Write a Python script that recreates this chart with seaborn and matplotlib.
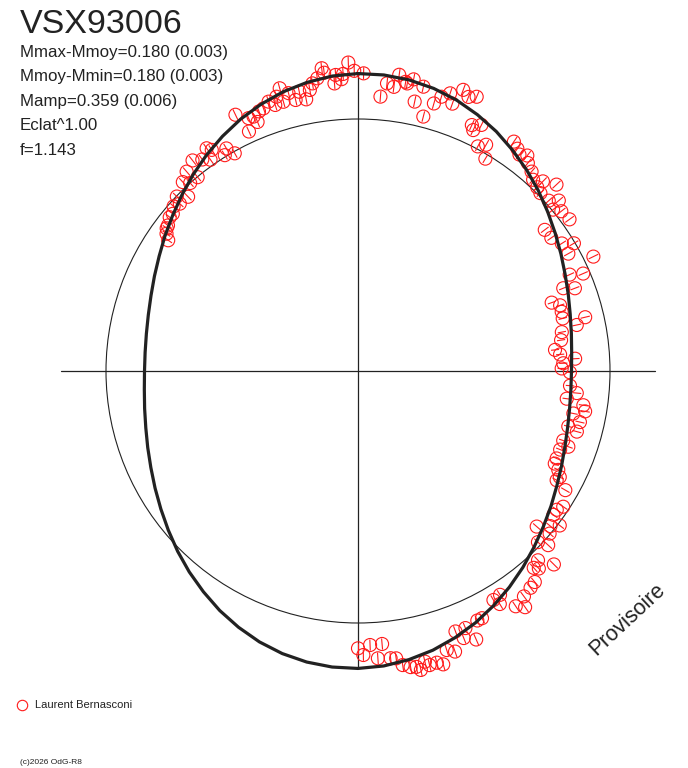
import numpy as np
import pandas as pd
import seaborn as sns
import matplotlib.pyplot as plt
from matplotlib.collections import LineCollection

sns.set_style("white")
plt.rcParams['font.family'] = ['Liberation Sans', 'DejaVu Sans']

# texts
star = "VSX93006"
info = ["Mmax-Mmoy=0.180 (0.003)", "Mmoy-Mmin=0.180 (0.003)",
        "Mamp=0.359 (0.006)", "Eclat^1.00", "f=1.143"]
observer = "Laurent Bernasconi"

# observations: phase (0..1, clockwise from top) and magnitude minus mean magnitude
phase = [0.957, 0.954, 0.957, 0.952, 0.949, 0.945, 0.942, 0.938, 0.935, 0.939,
         0.929, 0.932, 0.915, 0.918, 0.912, 0.907, 0.905, 0.903, 0.899, 0.894,
         0.887, 0.890, 0.881, 0.884, 0.877, 0.872, 0.870, 0.866, 0.862, 0.859,
         0.854, 0.852, 0.849, 0.846, 0.995, 0.998, 0.003, 0.992, 0.981, 0.982,
         0.978, 0.975, 0.988, 0.991, 0.987, 0.973, 0.967, 0.970, 0.964, 0.961,
         0.016, 0.020, 0.022, 0.026, 0.030, 0.027, 0.013, 0.033, 0.040, 0.036,
         0.044, 0.047, 0.051, 0.054, 0.057, 0.061, 0.065, 0.069, 0.074, 0.071,
         0.078, 0.082, 0.086, 0.095, 0.099, 0.102, 0.106, 0.109, 0.114, 0.118,
         0.123, 0.123, 0.130, 0.127, 0.134, 0.138, 0.140, 0.144, 0.151, 0.147,
         0.154, 0.161, 0.165, 0.169, 0.178, 0.182, 0.185, 0.189, 0.192, 0.196,
         0.200, 0.205, 0.210, 0.213, 0.217, 0.220, 0.226, 0.233, 0.237, 0.241,
         0.244, 0.248, 0.251, 0.261, 0.266, 0.271, 0.274, 0.281, 0.278, 0.286,
         0.291, 0.293, 0.302, 0.305, 0.309, 0.316, 0.320, 0.323, 0.327, 0.330,
         0.333, 0.343, 0.347, 0.351, 0.354, 0.364, 0.358, 0.362, 0.371, 0.368,
         0.379, 0.384, 0.382, 0.374, 0.389, 0.393, 0.399, 0.406, 0.402, 0.500,
         0.493, 0.486, 0.497, 0.489, 0.482, 0.479, 0.476, 0.472, 0.469, 0.467,
         0.464, 0.462, 0.458, 0.455, 0.451, 0.447, 0.443, 0.437, 0.440, 0.434,
         0.429, 0.426, 0.415, 0.410, 0.413]
dmag = [-0.165, -0.138, -0.112, -0.109, -0.129, -0.111, -0.106, -0.095, -0.097, -0.069,
        -0.130, -0.047, -0.028, 0.008, -0.007, -0.055, -0.072, -0.024, -0.045, -0.066,
        -0.046, 0.002, -0.024, 0.000, 0.038, 0.002, 0.033, 0.021, 0.040, 0.039,
        0.056, 0.059, 0.073, 0.097, -0.220, -0.190, -0.181, -0.180, -0.207, -0.190,
        -0.173, -0.157, -0.178, -0.161, -0.147, -0.134, -0.135, -0.101, -0.107, -0.139,
        -0.149, -0.139, -0.186, -0.164, -0.178, -0.159, -0.096, -0.096, -0.045, -0.159,
        -0.107, -0.140, -0.162, -0.128, -0.190, -0.173, -0.185, -0.079, -0.096, -0.063,
        -0.011, -0.034, 0.019, -0.104, -0.089, -0.075, -0.091, -0.069, -0.052, -0.031,
        -0.020, -0.054, -0.084, -0.012, -0.016, -0.048, -0.005, -0.028, -0.035, 0.080,
        0.077, 0.051, 0.005, 0.049, -0.041, 0.087, 0.029, 0.141, 0.089, 0.222,
        0.185, 0.187, 0.191, 0.083, 0.130, 0.211, 0.222, 0.261, 0.236, 0.160,
        0.222, 0.231, 0.188, 0.185, 0.148, 0.195, 0.109, 0.150, 0.096, 0.110,
        0.160, 0.113, 0.164, 0.130, 0.163, 0.162, 0.160, 0.131, 0.109, 0.115,
        0.057, 0.026, 0.042, 0.041, -0.009, 0.067, 0.021, 0.003, 0.016, -0.025,
        -0.039, -0.050, -0.066, -0.096, -0.096, -0.103, -0.114, -0.127, -0.150, -0.104,
        -0.092, -0.091, -0.130, -0.145, -0.149, -0.152, -0.180, -0.192, -0.195, -0.209,
        -0.183, -0.199, -0.197, -0.209, -0.163, -0.178, -0.107, -0.109, -0.142, -0.165,
        -0.101, -0.101, -0.059, -0.055, -0.086]
mag_err = 0.022

# fitted light curve, every 5 degrees of phase (double wave, repeats after 180)
curve_deg = list(range(0, 360, 5))
half_wave = [-0.180, -0.179, -0.173, -0.162, -0.146, -0.125, -0.101, -0.073, -0.044,
             -0.013, 0.019, 0.050, 0.079, 0.106, 0.129, 0.149, 0.164, 0.175,
             0.180, 0.179, 0.173, 0.162, 0.146, 0.125, 0.101, 0.073, 0.044,
             0.013, -0.019, -0.050, -0.079, -0.106, -0.129, -0.149, -0.164, -0.175]
curve_dmag = half_wave + half_wave


def to_xy(ang, dm):
    # radius = flux relative to mean (Eclat^1), angle clockwise from top
    r = 10 ** (-0.4 * np.asarray(dm))
    return r * np.sin(ang), r * np.cos(ang)


ang = 2 * np.pi * np.array(phase)
px, py = to_xy(ang, dmag)
obs = pd.DataFrame({'x': px, 'y': py})

cang = np.radians(curve_deg + [360])
cx, cy = to_xy(cang, curve_dmag + [curve_dmag[0]])
curve = pd.DataFrame({'x': cx, 'y': cy})
rmax = np.hypot(cx, cy).max()

fig = plt.figure(figsize=(6.88, 7.68), dpi=100)
ax = fig.add_axes([0, 0, 1, 1])
ax.set_xlim(-358 / 252, 330 / 252)
ax.set_ylim(-397 / 252, 371 / 252)
ax.set_axis_off()

# axes cross and mean-flux circle
ax.plot([-rmax, rmax], [0, 0], color='#222222', lw=0.9, zorder=1)
ax.plot([0, 0], [-rmax, rmax], color='#222222', lw=0.9, zorder=1)
ax.add_patch(plt.Circle((0, 0), 1, fill=False, color='#222222', lw=0.8, zorder=1))

# radial error bars
x0, y0 = to_xy(ang, np.array(dmag) + mag_err)
x1, y1 = to_xy(ang, np.array(dmag) - mag_err)
segs = [[(a, b), (c, d)] for a, b, c, d in zip(x0, y0, x1, y1)]
ax.add_collection(LineCollection(segs, colors='#ff1a1a', linewidths=0.8, zorder=2))

sns.scatterplot(data=obs, x='x', y='y', ax=ax, marker='o', s=88,
                facecolor='none', edgecolor='#ff1a1a', linewidth=0.8, zorder=3)

sns.lineplot(data=curve, x='x', y='y', ax=ax, sort=False, estimator=None,
             color='#222222', linewidth=2.3, zorder=4, solid_joinstyle='round')

# texts
fig.text(20 / 688, 1 - 33 / 768, star, fontsize=24.5, color='#222222', va='baseline')
for i, t in enumerate(info):
    fig.text(20 / 688, 1 - (56.5 + 24.6 * i) / 768, t, fontsize=12.2,
             color='#222222', va='baseline')

fig.text(627 / 688, 1 - 619 / 768, "Provisoire", fontsize=15.5, rotation=43,
         ha='center', va='center', color='#222222')

ax.plot([22.3 / 688], [1 - 704.5 / 768], transform=fig.transFigure, marker='o',
        ms=7.5, mfc='none', mec='#ff1a1a', mew=0.8, clip_on=False)
fig.text(35 / 688, 1 - 704.5 / 768, observer, fontsize=8, va='center', color='#222222')
fig.text(20 / 688, 1 - 762.5 / 768, "(c)2026 OdG-R8", fontsize=6, va='center', color='#222222')

if ax.get_legend():
    ax.get_legend().remove()

fig.savefig('out.png', dpi=100)
